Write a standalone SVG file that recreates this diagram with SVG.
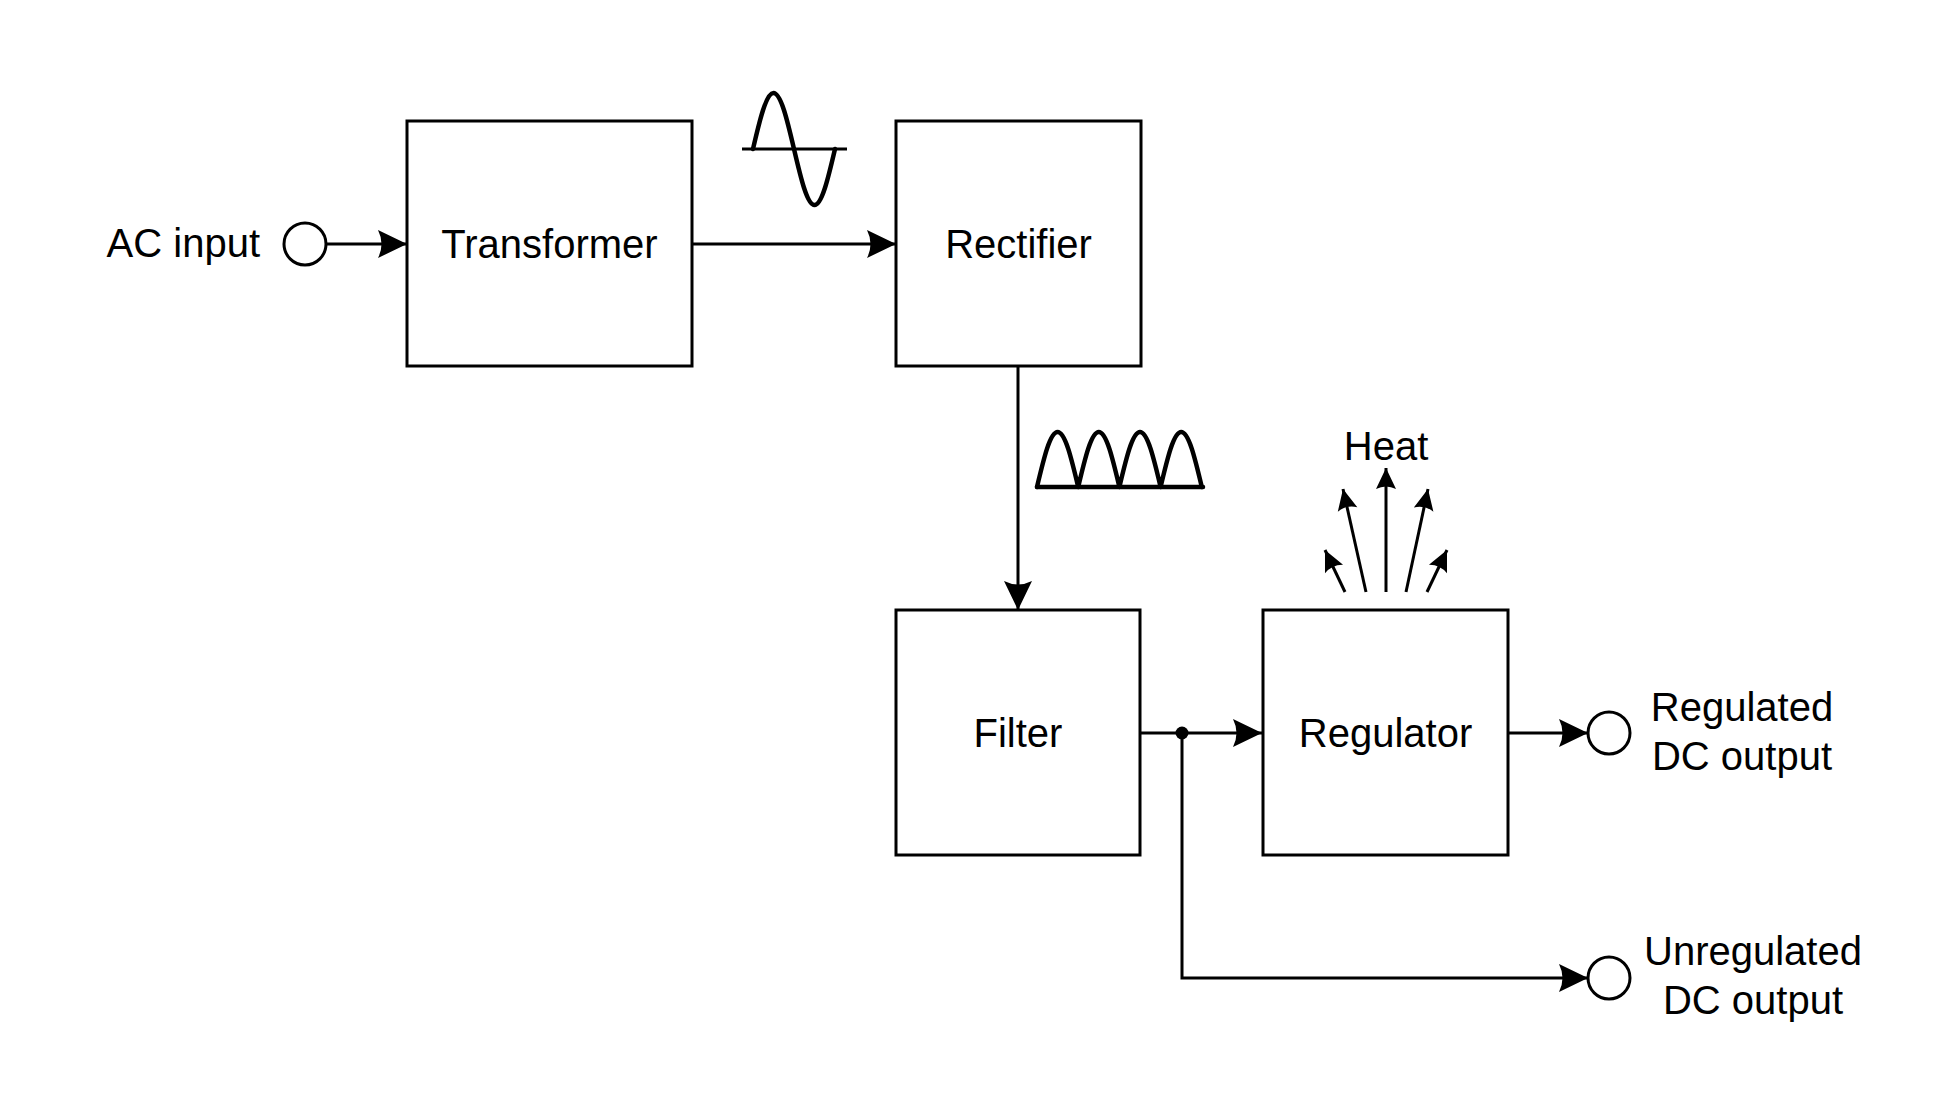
<svg xmlns="http://www.w3.org/2000/svg" width="1956" height="1100" viewBox="0 0 1956 1100">
<style>
.box{fill:#fff;stroke:#000;stroke-width:3}
.lbl{font-family:"Liberation Sans",Arial,sans-serif;font-size:40px;fill:#000}
.c{text-anchor:middle}
.wire{fill:none;stroke:#000;stroke-width:3}
.term{fill:#fff;stroke:#000;stroke-width:3}
.wave{fill:none;stroke:#000;stroke-width:4.5;stroke-linejoin:round;stroke-linecap:round}
</style>
<defs>
<marker id="arr" markerUnits="userSpaceOnUse" orient="auto" refX="0" refY="0" markerWidth="30" markerHeight="30" overflow="visible">
<path d="M0,0 L-29,-14 Q-22,0 -29,14 Z" fill="#000"/>
</marker>
<marker id="arrs" markerUnits="userSpaceOnUse" orient="auto" refX="0" refY="0" markerWidth="22" markerHeight="22" overflow="visible">
<path d="M0,0 L-21,-10 Q-16,0 -21,10 Z" fill="#000"/>
</marker>
</defs>
<rect width="1956" height="1100" fill="#fff"/>

<g id="connectors">
<path class="wire" d="M326,244 L407,244" marker-end="url(#arr)"/>
<path class="wire" d="M692,244 L896,244" marker-end="url(#arr)"/>
<path class="wire" d="M1018,366 L1018,610" marker-end="url(#arr)"/>
<path class="wire" d="M1140,733 L1262,733" marker-end="url(#arr)"/>
<path class="wire" d="M1182,733 L1182,978 L1588,978" marker-end="url(#arr)"/>
<path class="wire" d="M1507,733 L1588,733" marker-end="url(#arr)"/>
<circle cx="1182" cy="733" r="6.5" fill="#000"/>
</g>

<g id="heat">
<path class="wire" d="M1386,592 L1386,468" marker-end="url(#arrs)"/>
<path class="wire" d="M1366,592 L1343,489" marker-end="url(#arrs)"/>
<path class="wire" d="M1406,592 L1428,489" marker-end="url(#arrs)"/>
<path class="wire" d="M1345,592 L1325,550" marker-end="url(#arrs)"/>
<path class="wire" d="M1427,592 L1447,550" marker-end="url(#arrs)"/>
<text class="lbl c" x="1386" y="460">Heat</text>
</g>

<g id="ac-wave">
<path class="wire" d="M742,149 L847,149"/>
<path class="wave" d="M753,149 C759.7,120.3 766.1,93 773.5,93 C780.9,93 787.3,120.3 794,149 C800.7,177.7 807.1,205 814.5,205 C821.9,205 828.3,177.7 835,149"/>
</g>

<g id="rectified-wave">
<path class="wave" d="M1037,487 L1203,487"/>
<path class="wave" d="M1037,487 C1043.7,458.8 1050,432 1057.6,432 C1065.2,432 1071.5,458.8 1078.2,487 C1084.9,458.8 1091.2,432 1098.8,432 C1106.4,432 1112.7,458.8 1119.4,487 C1126.1,458.8 1132.4,432 1140,432 C1147.6,432 1153.9,458.8 1160.6,487 C1167.3,458.8 1173.6,432 1181.2,432 C1188.8,432 1195.1,458.8 1201.8,487"/>
</g>

<g id="ac-input">
<circle class="term" cx="305" cy="244" r="21"/>
<text class="lbl" x="260" y="257" text-anchor="end">AC input</text>
</g>

<g id="transformer">
<rect class="box" x="407" y="121" width="285" height="245"/>
<text class="lbl c" x="549.5" y="258">Transformer</text>
</g>

<g id="rectifier">
<rect class="box" x="896" y="121" width="245" height="245"/>
<text class="lbl c" x="1018.5" y="258">Rectifier</text>
</g>

<g id="filter">
<rect class="box" x="896" y="610" width="244" height="245"/>
<text class="lbl c" x="1018" y="747">Filter</text>
</g>

<g id="regulator">
<rect class="box" x="1263" y="610" width="245" height="245"/>
<text class="lbl c" x="1385.5" y="747">Regulator</text>
</g>

<g id="regulated-output">
<circle class="term" cx="1609" cy="733" r="21"/>
<text class="lbl c" x="1742" y="721">Regulated</text>
<text class="lbl c" x="1742" y="770">DC output</text>
</g>

<g id="unregulated-output">
<circle class="term" cx="1609" cy="978" r="21"/>
<text class="lbl c" x="1753" y="965">Unregulated</text>
<text class="lbl c" x="1753" y="1014">DC output</text>
</g>
</svg>
